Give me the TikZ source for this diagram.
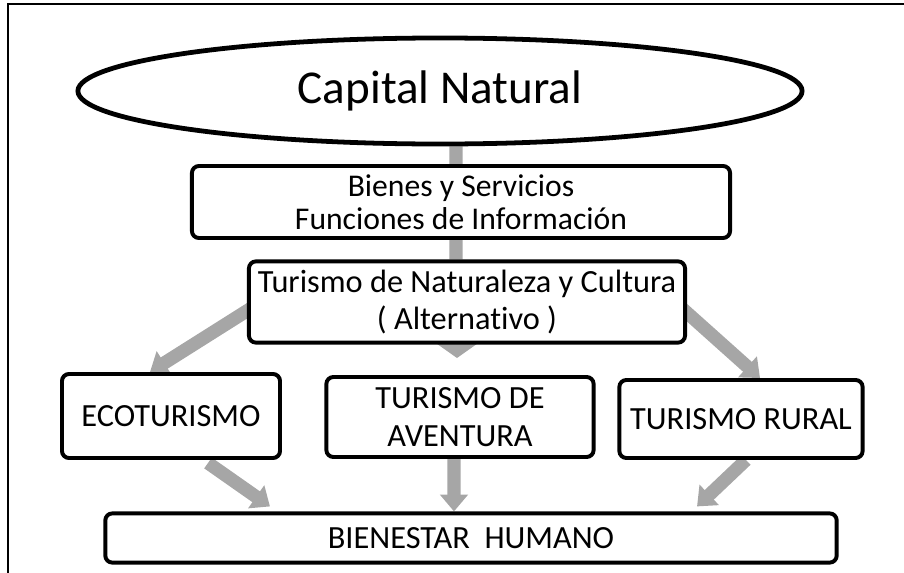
\documentclass[tikz,border=0pt]{standalone}
\usepackage{fontspec}
\setmainfont[Ligatures=NoCommon]{Carlito}
\usetikzlibrary{arrows.meta,shapes.geometric}
\definecolor{gris}{HTML}{A6A6A6}
\pgfdeclarelayer{fondo}
\pgfsetlayers{fondo,main}

\tikzset{
  caja/.style={draw,line width=2.8pt,rounded corners=5pt,fill=white,align=center,inner sep=0pt,
    font=\fontsize{23}{27}\selectfont},
  flecha/.style={draw=gris,line width=0.33cm,-{Triangle[width=0.68cm,length=0.42cm]}},
  barra/.style={draw=gris,line width=0.33cm},
}

\begin{document}
\begin{tikzpicture}[x=0.025cm,y=-0.025cm]
  \useasboundingbox (0,0) rectangle (904,573);
  \draw[line width=1pt] (8,573) -- (8,4) -- (904,4);

  \node[ellipse,draw,line width=3.4pt,fill=white,minimum width=18.1cm,minimum height=2.65cm,
    font=\fontsize{33.5}{40}\selectfont] (nat) at (440,91) {Capital Natural};
  \node[caja,minimum width=13.45cm,minimum height=1.8cm,
    font=\fontsize{22.5}{23.5}\selectfont] (bienes) at (461,202) {Bienes y Servicios\\Funciones de Información};
  \node[caja,minimum width=10.9cm,minimum height=2.03cm] (turnat) at (467,302)
    {Turismo de Naturaleza y Cultura\\( Alternativo )};
  \node[caja,minimum width=5.45cm,minimum height=2.1cm] (eco) at (171,416) {ECOTURISMO};
  \node[caja,minimum width=6.68cm,minimum height=2cm] (avent) at (460,417) {TURISMO DE\\AVENTURA};
  \node[caja,minimum width=6.08cm,minimum height=1.95cm] (rural) at (741,419) {TURISMO RURAL};
  \node[caja,minimum width=18.28cm,minimum height=1.23cm] (bien) at (471,538) {BIENESTAR\ \ HUMANO};

  \begin{pgfonlayer}{fondo}
    \draw[barra] ([xshift=0.4cm]nat.south) -- ([xshift=-0.125cm]bienes.north);
    \draw[barra] ([xshift=-0.125cm]bienes.south) -- ([xshift=-0.275cm]turnat.north);
    \draw[flecha,-{Triangle[width=1cm,length=0.36cm]}] ([xshift=-0.25cm]turnat.center)
      -- ([xshift=-0.075cm,yshift=0.425cm]avent.north);
    \draw[flecha] ([xshift=0.35cm]turnat.west) -- ([xshift=-0.525cm]eco.north);
    \draw[flecha] ([xshift=-0.3cm]turnat.east) -- ([xshift=0.475cm]rural.north);
    \draw[flecha] ([xshift=0.925cm,yshift=-0.075cm]eco.south) -- ([xshift=-5.025cm,yshift=0.125cm]bien.north);
    \draw[flecha] ([xshift=-0.15cm]avent.south) -- ([xshift=-0.425cm]bien.north);
    \draw[flecha] ([xshift=0.125cm]rural.south) -- ([xshift=5.65cm,yshift=0.125cm]bien.north);
  \end{pgfonlayer}
\end{tikzpicture}
\end{document}
